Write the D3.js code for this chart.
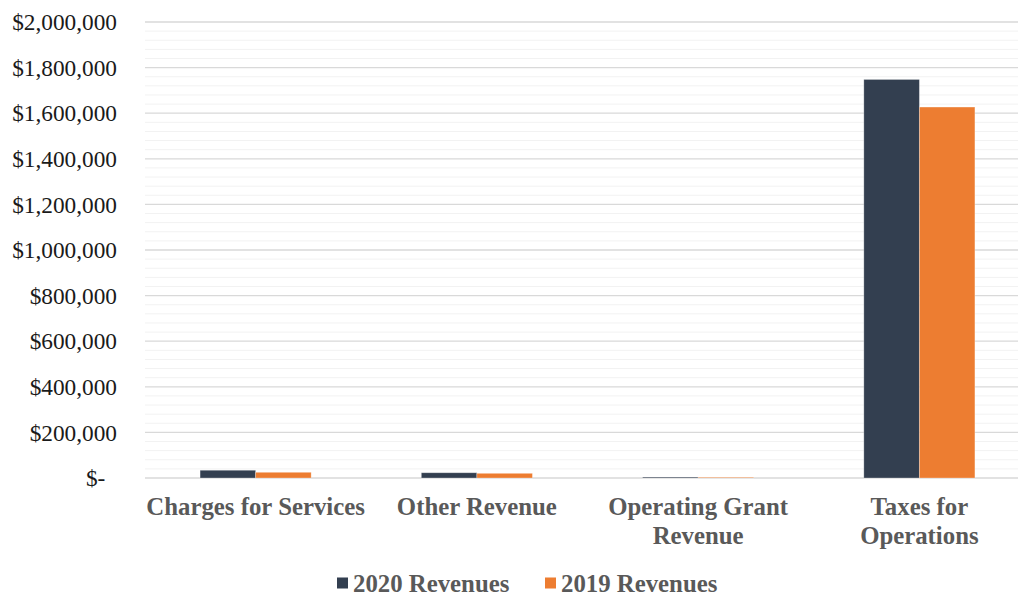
<!DOCTYPE html>
<html>
<head>
<meta charset="utf-8">
<script src="https://cdn.jsdelivr.net/npm/d3@7"></script>
<style>
  body { margin: 0; background: #fff; }
  text { font-family: "Liberation Serif", "Times New Roman", serif; }
</style>
</head>
<body>
<div id="chart"></div>
<script>
// categories (\n marks where Excel wrapped the label)
const categories = ["Charges for Services", "Other Revenue", "Operating Grant\nRevenue", "Taxes for\nOperations"];
const seriesNames = ["2020 Revenues", "2019 Revenues"];
const revenues2020 = [34000, 23000, 4000, 1748000];
const revenues2019 = [25000, 20500, 3000, 1627000];
const yTicks = [0, 200000, 400000, 600000, 800000, 1000000, 1200000, 1400000, 1600000, 1800000, 2000000];
const colors = ["#333f50", "#ed7d31"];

(function revenueChart(){
    let width = 1018,
    height = 594,
    margin = ({top: 22, right: -12, bottom: 116, left: 145})

    const svg = d3.select("#chart")
    .append("svg")
    .attr("width", width)
    .attr("height", height);

    const dataset = categories.map((c, i) => ({
        category: c,
        values: [revenues2020[i], revenues2019[i]]
    }));

    let xScale = d3.scaleBand()
    .domain(categories)
    .range([margin.left, width - margin.right])
    .padding(0);

    let groupWidth = xScale.bandwidth() * 0.502;
    let xInner = d3.scaleBand()
    .domain(seriesNames)
    .range([0, groupWidth]);

    let yScale = d3.scaleLinear()
    .domain([0, 2000000])
    .range([height - margin.bottom, margin.top]);

    // minor gridlines every 40,000
    let minor = d3.range(40000, 2000000, 40000).filter(v => v % 200000 !== 0);
    svg.append("g")
    .selectAll("line")
    .data(minor)
    .join("line")
    .attr("x1", margin.left)
    .attr("x2", width)
    .attr("y1", d => yScale(d))
    .attr("y2", d => yScale(d))
    .attr("stroke", "#f2f2f2")
    .attr("stroke-width", 1);

    // major gridlines
    svg.append("g")
    .selectAll("line")
    .data(yTicks)
    .join("line")
    .attr("x1", margin.left)
    .attr("x2", width)
    .attr("y1", d => yScale(d))
    .attr("y2", d => yScale(d))
    .attr("stroke", "#d9d9d9")
    .attr("stroke-width", 1.3);

    // y axis labels
    let fmt = d => d === 0 ? "$-\u00a0\u00a0" : "$" + d3.format(",")(d);
    svg.append("g")
    .attr("transform", `translate(${margin.left - 28},0)`)
    .call(d3.axisLeft(yScale).tickValues(yTicks).tickFormat(fmt).tickSize(0).tickPadding(0))
    .call(g => g.select(".domain").remove())
    .call(g => g.selectAll("text")
        .attr("font-family", "Liberation Serif")
        .attr("font-size", 23.3)
        .attr("fill", "#1a1a1a")
        .attr("dy", "0.33em"));

    // bars
    let groups = svg.append("g")
    .selectAll("g")
    .data(dataset)
    .join("g")
    .attr("transform", d => `translate(${xScale(d.category) + (xScale.bandwidth() - groupWidth) / 2},0)`);

    groups.selectAll("rect")
    .data(d => d.values.map((v, i) => ({series: seriesNames[i], value: v, i: i})))
    .join("rect")
    .attr("x", d => xInner(d.series))
    .attr("width", xInner.bandwidth())
    .attr("y", d => yScale(d.value))
    .attr("height", d => yScale(0) - yScale(d.value))
    .attr("fill", d => colors[d.i])
    .attr("stroke", "#ffffff")
    .attr("stroke-opacity", 0.35)
    .attr("stroke-width", 0.8);

    // category labels
    let labels = svg.append("g")
    .selectAll("text")
    .data(categories)
    .join("text")
    .attr("x", d => xScale(d) + xScale.bandwidth() / 2)
    .attr("y", height - margin.bottom + 37)
    .attr("text-anchor", "middle")
    .attr("font-size", 24.8)
    .attr("font-weight", "bold")
    .attr("fill", "#595959");

    labels.selectAll("tspan")
    .data(d => d.split("\n"))
    .join("tspan")
    .attr("x", function() { return this.parentNode.getAttribute("x"); })
    .attr("dy", (d, i) => i === 0 ? 0 : 29)
    .text(d => d);

    // legend
    let legend = svg.append("g")
    .attr("transform", `translate(337,583)`);

    let legendX = [0, 208];
    let items = legend.selectAll("g")
    .data(seriesNames)
    .join("g")
    .attr("transform", (d, i) => `translate(${legendX[i]},0)`);

    items.append("rect")
    .attr("x", 0)
    .attr("y", -5.5)
    .attr("width", 11)
    .attr("height", 11)
    .attr("fill", (d, i) => colors[i]);

    items.append("text")
    .attr("x", 16)
    .attr("y", 0)
    .attr("dy", "0.35em")
    .attr("font-size", 24.8)
    .attr("font-weight", "bold")
    .attr("fill", "#595959")
    .text(d => d);
})();
</script>
</body>
</html>
